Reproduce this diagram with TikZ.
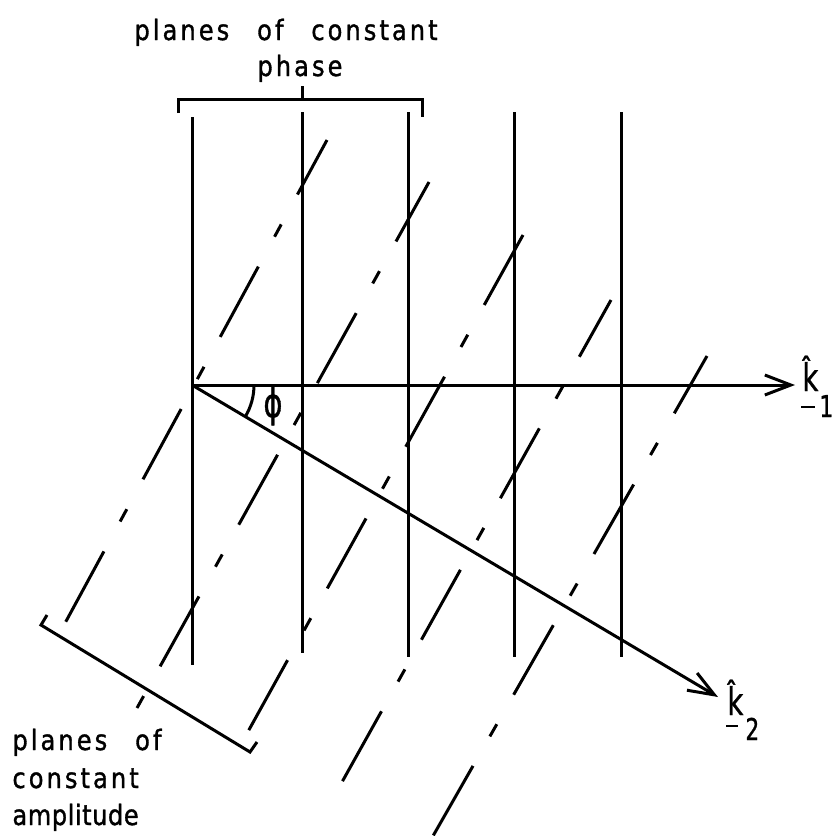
\documentclass[tikz,border=0pt]{standalone}
\usepackage{fontspec}
\usetikzlibrary{arrows.meta}
\newfontfamily\labfont[LetterSpace=11,WordSpace=2.6,FakeStretch=0.86,FakeBold=1.2]{DejaVu Sans}
\newfontfamily\labtightfont[LetterSpace=2,FakeStretch=0.86,FakeBold=1.2]{DejaVu Sans}
\newfontfamily\kfont[FakeStretch=0.72,FakeBold=1.0]{DejaVu Sans}
\begin{document}
\begin{tikzpicture}[x=1pt,y=-1pt,line width=3pt,
  phaseline/.style={line width=3pt},
  ampline/.style={line width=3pt,dash pattern=on 80pt off 34pt on 14pt off 34pt},
  bracket/.style={line width=3pt,line join=miter},
  lab/.style={inner sep=0pt,anchor=base west,font=\labfont\fontsize{28}{30}\selectfont},
  labtight/.style={inner sep=0pt,anchor=base west,font=\labtightfont\fontsize{28}{30}\selectfont},
  vlab/.style={inner sep=0pt,anchor=base west,font=\kfont\fontsize{38}{40}\selectfont},
  sublab/.style={inner sep=0pt,anchor=base west,font=\kfont\fontsize{30}{32}\selectfont},
  vecarrow/.style={-{Straight Barb[length=26pt,width=20pt]}},
  uline/.style={line width=2.8pt}]
\useasboundingbox (0,0) rectangle (833,836);
\fill[white] (0,0) rectangle (833,836);

% planes of constant phase (solid verticals)
\draw[phaseline] (192,117) -- (192,665);
\draw[phaseline] (302,112) -- (302,653);
\draw[phaseline] (408,112) -- (408,657);
\draw[phaseline] (514,112) -- (514,657);
\draw[phaseline] (621,112) -- (621,657);

% planes of constant amplitude (dashed)
\draw[ampline,dash phase=18pt] (327,140) -- (64,625);
\draw[ampline,dash phase=12pt] (429,182) -- (137,708);
\draw[ampline,dash phase=0pt]  (523,235) -- (245,737);
\draw[ampline,dash phase=15pt] (611,300) -- (337,791);
\draw[ampline,dash phase=14pt] (707,356) -- (433,836);

% brackets
\draw[bracket] (178,113) -- (178,99) -- (422,99) -- (422,117);
\draw[bracket] (302,99) -- (302,86);
\draw[bracket] (47,615) -- (41,625) -- (250,752) -- (257,742);

% wave vectors
\coordinate (O) at (192,385);
\coordinate (K1) at (795,385);
\coordinate (K2) at (718,697);
\draw[vecarrow] (O) -- (K1);
\draw[vecarrow] (O) -- (K2);
\draw ([xshift=62pt]O) arc[start angle=0,end angle=30.7,radius=62];

% labels
\node[lab] (t1) at (133,40) {planes of constant};
\node[lab] (t2) at (256,76) {phase};
\node[lab] (a1) at (11,750) {planes of};
\node[lab] (a2) at (11,788) {constant};
\node[labtight] (a3) at (11,825) {amplitude};
\node[inner sep=0pt,font=\kfont\fontsize{40}{42}\selectfont] (phi) at (273,406) {ϕ};

\node[vlab] (k1) at (801,391) {\^{k}};
\draw[uline] ([yshift=-16pt]k1.base west) -- ([yshift=-16pt,xshift=14pt]k1.base west);
\node[sublab] (s1) at (818,417) {1};

\node[vlab] (k2) at (726,715) {\^{k}};
\draw[uline] ([yshift=-11pt]k2.base west) -- ([yshift=-11pt,xshift=12pt]k2.base west);
\node[sublab] (s2) at (744,740) {2};
\end{tikzpicture}
\end{document}
